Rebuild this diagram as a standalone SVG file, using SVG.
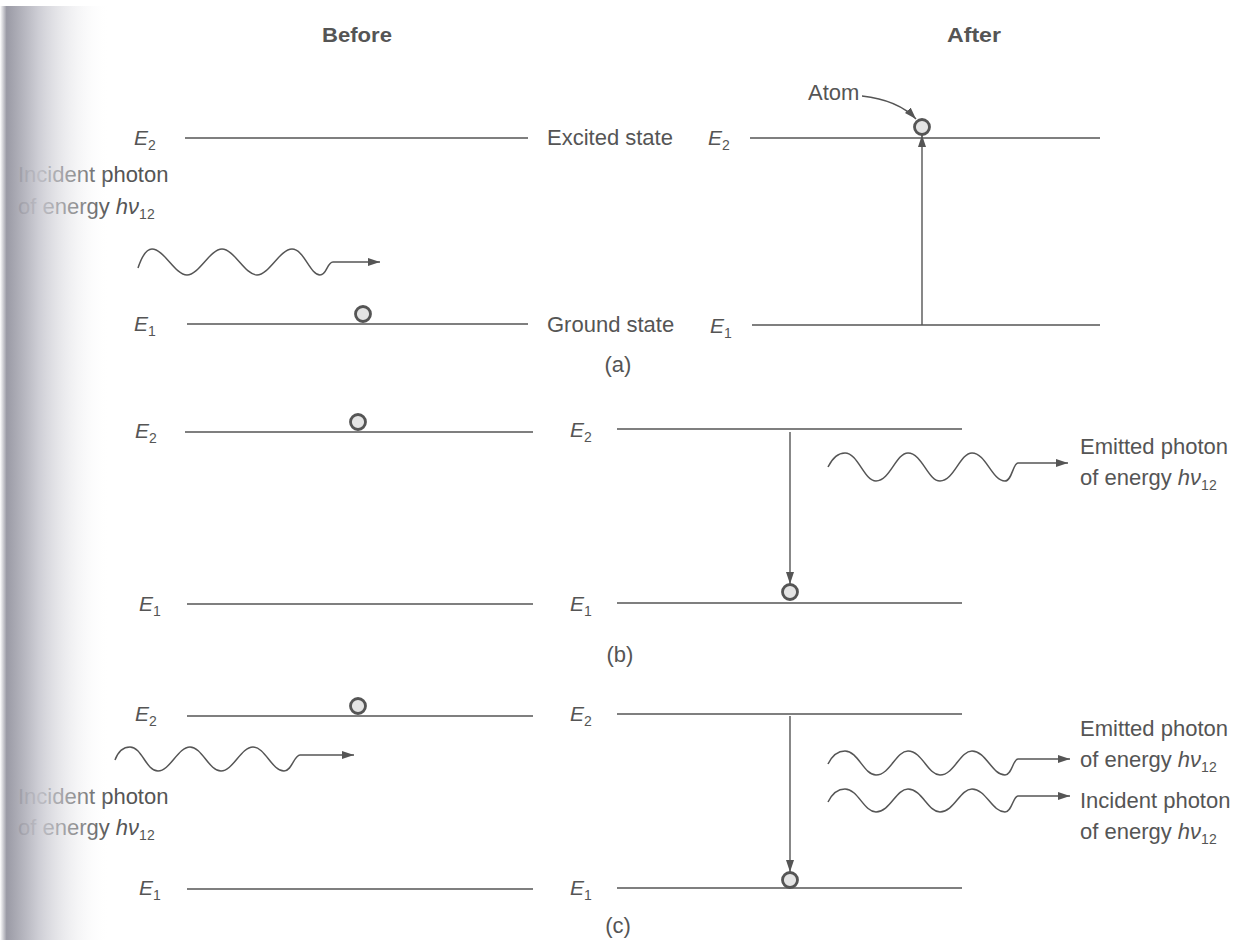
<svg xmlns="http://www.w3.org/2000/svg" xmlns:xlink="http://www.w3.org/1999/xlink" width="1244" height="940" viewBox="0 0 1244 940">
<style>
.lvl{stroke:#555;stroke-width:1.6;fill:none}
.wave{stroke:#555;stroke-width:1.5;fill:none}
.arr{stroke:#555;stroke-width:1.4;fill:none}
.atom{stroke:#555;stroke-width:2.8;fill:#e4e4e4}
.t{font-family:"Liberation Sans",Arial,sans-serif;font-size:22px;fill:#555}
.e{font-family:"Liberation Sans",Arial,sans-serif;font-size:21px;fill:#555;font-style:italic}
.sub{font-size:14px;font-style:normal}
.hd{font-family:"Liberation Sans",Arial,sans-serif;font-size:21px;font-weight:bold;fill:#555}
</style>
<defs>
<marker id="ah" viewBox="0 0 12 8" refX="12" refY="4" markerWidth="12" markerHeight="8" markerUnits="userSpaceOnUse" orient="auto">
<path d="M0,0 L12,4 L0,8 Z" fill="#555"/>
</marker>
<linearGradient id="strip" x1="0" y1="0" x2="1" y2="0">
<stop offset="0" stop-color="#ffffff"/>
<stop offset="0.06" stop-color="#8f8f9b"/>
<stop offset="0.35" stop-color="#c8c8d0"/>
<stop offset="1" stop-color="#ffffff" stop-opacity="0"/>
</linearGradient>
</defs>
<rect width="1244" height="940" fill="#ffffff"/>

<g id="headers">
<text class="hd" x="357" y="42" text-anchor="middle" textLength="70" lengthAdjust="spacingAndGlyphs">Before</text>
<text class="hd" x="974" y="42" text-anchor="middle" textLength="54" lengthAdjust="spacingAndGlyphs">After</text>
</g>

<!-- (a) -->
<g id="a-before">
<text class="e" x="134" y="145">E<tspan class="sub" dy="5">2</tspan></text>
<line class="lvl" x1="185" y1="138" x2="528" y2="138"/>
<text class="e" x="134" y="331">E<tspan class="sub" dy="5">1</tspan></text>
<line class="lvl" x1="187" y1="324" x2="528" y2="324"/>
<circle class="atom" cx="363" cy="314" r="7.5"/>
<text class="t" x="18" y="182">Incident photon</text>
<text class="t" x="18" y="214">of energy <tspan font-style="italic">hν</tspan><tspan class="sub" dy="5">12</tspan></text>
</g>
<g id="a-labels">
<text class="t" x="547" y="145">Excited state</text>
<text class="t" x="547" y="332">Ground state</text>
<text class="t" x="618" y="372" text-anchor="middle">(a)</text>
</g>
<g id="a-after">
<text class="e" x="708" y="145">E<tspan class="sub" dy="5">2</tspan></text>
<line class="lvl" x1="750" y1="138" x2="1100" y2="138"/>
<text class="e" x="710" y="333">E<tspan class="sub" dy="5">1</tspan></text>
<line class="lvl" x1="752" y1="325" x2="1100" y2="325"/>
<circle class="atom" cx="922" cy="127" r="7.5"/>
<text class="t" x="808" y="100">Atom</text>
</g>

<!-- (b) -->
<g id="b-before">
<text class="e" x="135" y="438">E<tspan class="sub" dy="5">2</tspan></text>
<line class="lvl" x1="185" y1="432" x2="533" y2="432"/>
<circle class="atom" cx="358" cy="422" r="7.5"/>
<text class="e" x="139" y="611">E<tspan class="sub" dy="5">1</tspan></text>
<line class="lvl" x1="187" y1="604" x2="533" y2="604"/>
<text class="t" x="620" y="662" text-anchor="middle">(b)</text>
</g>
<g id="b-after">
<text class="e" x="570" y="437">E<tspan class="sub" dy="5">2</tspan></text>
<line class="lvl" x1="617" y1="429" x2="962" y2="429"/>
<text class="e" x="570" y="611">E<tspan class="sub" dy="5">1</tspan></text>
<line class="lvl" x1="617" y1="603" x2="962" y2="603"/>
<circle class="atom" cx="790" cy="592" r="7.5"/>
<text class="t" x="1080" y="454">Emitted photon</text>
<text class="t" x="1080" y="485">of energy <tspan font-style="italic">hν</tspan><tspan class="sub" dy="5">12</tspan></text>
</g>

<!-- (c) -->
<g id="c-before">
<text class="e" x="135" y="721">E<tspan class="sub" dy="5">2</tspan></text>
<line class="lvl" x1="187" y1="716" x2="533" y2="716"/>
<circle class="atom" cx="358" cy="706" r="7.5"/>
<text class="e" x="139" y="895">E<tspan class="sub" dy="5">1</tspan></text>
<line class="lvl" x1="187" y1="889" x2="533" y2="889"/>
<text class="t" x="18" y="804">Incident photon</text>
<text class="t" x="18" y="835">of energy <tspan font-style="italic">hν</tspan><tspan class="sub" dy="5">12</tspan></text>
<text class="t" x="618" y="933" text-anchor="middle">(c)</text>
</g>
<g id="c-after">
<text class="e" x="570" y="721">E<tspan class="sub" dy="5">2</tspan></text>
<line class="lvl" x1="617" y1="714" x2="962" y2="714"/>
<text class="e" x="570" y="895">E<tspan class="sub" dy="5">1</tspan></text>
<line class="lvl" x1="617" y1="888" x2="962" y2="888"/>
<circle class="atom" cx="790" cy="880" r="7.5"/>
<text class="t" x="1080" y="736">Emitted photon</text>
<text class="t" x="1080" y="767">of energy <tspan font-style="italic">hν</tspan><tspan class="sub" dy="5">12</tspan></text>
<text class="t" x="1080" y="808">Incident photon</text>
<text class="t" x="1080" y="839">of energy <tspan font-style="italic">hν</tspan><tspan class="sub" dy="5">12</tspan></text>
</g>

<g id="connectors">
<path class="wave" marker-end="url(#ah)" d="M138,268 C142,256 146,249 152,249 C164,249 175,275 187,275 C199,275 210,249 222,249 C234,249 245,275 257,275 C269,275 280,249 292,249 C304,249 310,275 320,275 C327,275 327,262 333,262 L380,262"/>
<path class="arr" marker-end="url(#ah)" d="M862,96 Q898,100 916,119"/>
<line class="arr" x1="922" y1="325" x2="922" y2="135" marker-end="url(#ah)"/>
<line class="arr" x1="790" y1="432" x2="790" y2="584" marker-end="url(#ah)"/>
<path class="wave" marker-end="url(#ah)" d="M828,467 C832,459 838,453 845,453 C858,453 864,481 876,481 C890,481 896,453 908,453 C922,453 928,481 940,481 C954,481 960,453 972,453 C986,453 992,481 1005,481 C1012,481 1013,463 1018,463 L1068,463"/>
<path class="wave" marker-end="url(#ah)" d="M115,760 C118,752 123,747 130,747 C142,747 146,771 158,771 C170,771 178,747 190,747 C202,747 209,771 221,771 C233,771 241,747 253,747 C265,747 272,771 284,771 C292,771 294,755 300,755 L354,755"/>
<line class="arr" x1="790" y1="716" x2="790" y2="872" marker-end="url(#ah)"/>
<path class="wave" marker-end="url(#ah)" d="M828,764 C832,756 838,751 845,751 C858,751 864,775 876,775 C890,775 896,751 908,751 C922,751 928,775 940,775 C954,775 960,751 972,751 C986,751 992,775 1005,775 C1012,775 1013,759 1018,759 L1070,759"/>
<path class="wave" marker-end="url(#ah)" d="M828,802 C832,794 838,789 845,789 C858,789 864,812 876,812 C890,812 896,789 908,789 C922,789 928,812 940,812 C954,812 960,789 972,789 C986,789 992,812 1005,812 C1012,812 1013,796 1018,796 L1070,796"/>
</g>

<rect id="binding" x="0" y="6" width="110" height="934" fill="url(#strip)" opacity="0.9"/>
</svg>
